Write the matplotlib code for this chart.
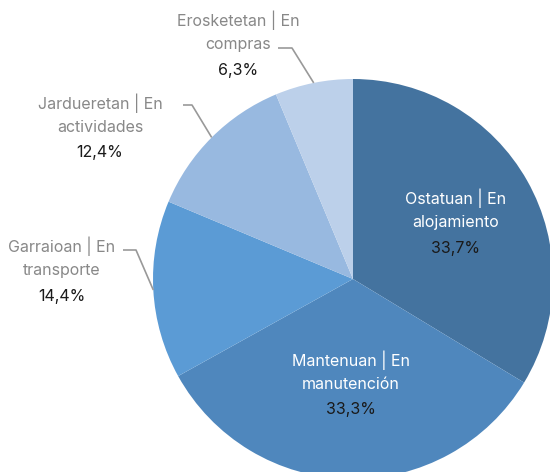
import matplotlib.pyplot as plt
import numpy as np

labels = ["Ostatuan | En\nalojamiento", "Mantenuan | En\nmanutención",
          "Garraioan | En\ntransporte", "Jardueretan | En\nactividades",
          "Erosketetan | En\ncompras"]
values = [33.7, 33.3, 14.4, 12.4, 6.3]
pct_text = ["33,7%", "33,3%", "14,4%", "12,4%", "6,3%"]
colors = ["#44739f", "#4f87bd", "#5b9bd5", "#98b9e0", "#bcd0ea"]

plt.rcParams['font.family'] = ['Inter', 'DejaVu Sans']

H = 472
def Y(py):
    # pixel row (from top) -> data y
    return H - py

fig = plt.figure(figsize=(5.5, 4.72), dpi=100)
ax = fig.add_axes([0, 0, 1, 1])

cx, cy, R = 353, Y(279), 200
wedges, _ = ax.pie(values, colors=colors, startangle=90, counterclock=False,
                   center=(cx, cy), radius=R, frame=True,
                   wedgeprops=dict(linewidth=0))
ax.set_xlim(0, 550)
ax.set_ylim(0, H)
ax.set_aspect('equal')
ax.axis('off')

fs = 11.5
# inside labels: (slice index, radial fraction)
for i, rf in [(0, 0.59), (1, 0.52)]:
    w = wedges[i]
    ang = np.deg2rad((w.theta1 + w.theta2) / 2)
    x = cx + rf * R * np.cos(ang)
    y = cy + rf * R * np.sin(ang)
    ax.text(x, y + 12, labels[i], ha='center', va='center', color='white',
            fontsize=fs, linespacing=1.55)
    ax.text(x, y - 27, pct_text[i], ha='center', va='center', color='#1a1a1a',
            fontsize=fs)

# outside labels with connectors: (index, elbow px, line end px, text centre px)
outside = [
    (2, (136, 250), (123, 250), (62, 257)),
    (3, (192, 105), (183, 105), (100, 114)),
    (4, (292, 48), (278, 48), (238, 31)),
]
for i, elbow, lend, (tx, ty) in outside:
    w = wedges[i]
    ang = np.deg2rad((w.theta1 + w.theta2) / 2)
    ex = cx + R * np.cos(ang)
    ey = cy + R * np.sin(ang)
    ax.plot([ex, elbow[0], lend[0]], [ey, Y(elbow[1]), Y(lend[1])],
            color='#999999', lw=1.2, solid_capstyle='butt')
    ax.text(tx, Y(ty), labels[i], ha='center', va='center', color='#888888',
            fontsize=fs, linespacing=1.55)
    ax.text(tx, Y(ty + 39), pct_text[i], ha='center', va='center',
            color='#1a1a1a', fontsize=fs)

fig.savefig('out.png', dpi=100)
